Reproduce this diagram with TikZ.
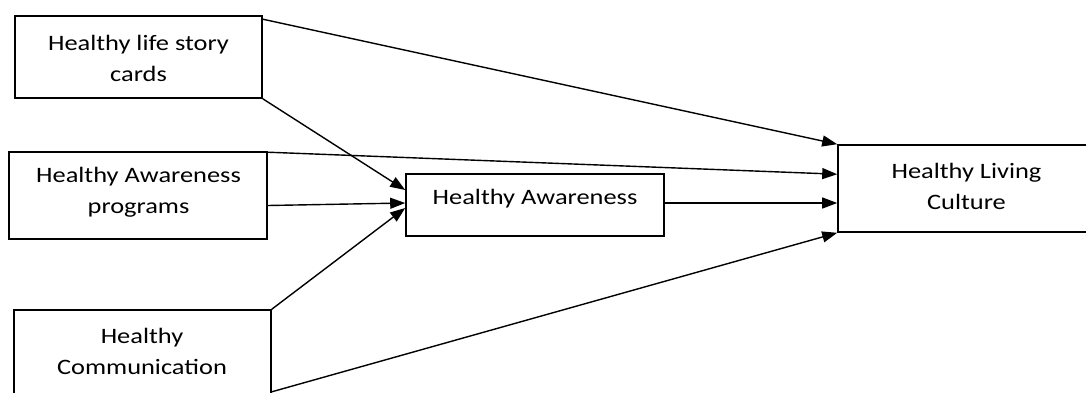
\documentclass[tikz,border=0pt]{standalone}
\usepackage{fontspec}
\setmainfont{Carlito}[FakeStretch=1.2]
\usetikzlibrary{arrows.meta,calc}
\begin{document}
\begin{tikzpicture}[x=1pt,y=-1pt,
  box/.style={draw, line width=1.6pt, rectangle, inner sep=0pt},
  lbl/.style={align=center, font=\fontsize{22}{31}\selectfont, inner sep=0pt},
  arr/.style={line width=1.4pt, -{Triangle[length=15pt,width=11pt]}}]
\useasboundingbox (0,0) rectangle (1086,392);
% boxes
\node[box, minimum width=247pt, minimum height=82pt] (b1) at (138.5,57) {};
\node[box, minimum width=258pt, minimum height=87pt] (b2) at (138,195.5) {};
\node[box, minimum width=257pt, minimum height=85pt] (b3) at (142.5,352.5) {};
\node[box, minimum width=258pt, minimum height=62pt] (b4) at (535,205) {};
\node[box, minimum width=257pt, minimum height=87pt] (b5) at (966.5,188.5) {};
% texts
\node[lbl] (t1) at (138.5,58) {Healthy life story\\cards};
\node[lbl] (t2) at (138.5,192.5) {Healthy Awareness\\programs};
\node[lbl] (t3) at (142,351.5) {Healthy\\Communication};
\node[lbl] (t4) at (535,199) {Healthy Awareness};
\node[lbl] (t5) at (966.5,186) {Healthy Living\\Culture};
% connectors
\draw[arr] ($(b1.north east)+(0,4)$) -- (b5.north west);
\draw[arr] (b1.south east) -- ($(b4.west)+(0,-15)$);
\draw[arr] ($(b2.north east)+(0,1)$) -- ($(b5.north west)+(0,30)$);
\draw[arr] ($(b2.east)+(0,10)$) -- ($(b4.west)+(0,-2)$);
\draw[arr] (b3.north east) -- ($(b4.west)+(0,3)$);
\draw[arr] ($(b4.east)+(0,-2)$) -- ($(b5.west)+(0,14.5)$);
\draw[arr] ($(b3.south east)+(0,-4)$) -- (b5.south west);
\end{tikzpicture}
\end{document}
